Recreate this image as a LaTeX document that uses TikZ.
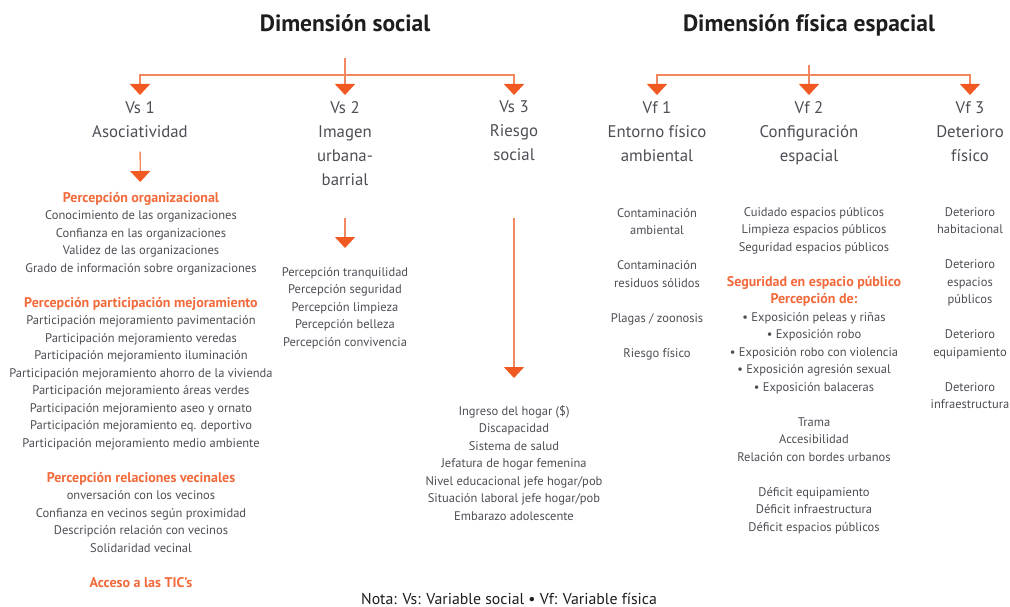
\documentclass[tikz,border=0pt]{standalone}
\usepackage{fontspec}
\setmainfont{PT Sans}
\usepackage{tikz}
\usetikzlibrary{arrows.meta, positioning}
\definecolor{naranja}{HTML}{F05A22}
\definecolor{linea}{HTML}{F3875E}
\definecolor{rotulo}{HTML}{F26A3B}
\definecolor{texto}{HTML}{4F4D55}
\definecolor{titulo}{HTML}{1E1E1E}
\tikzstyle{dim} = [inner sep = 0, text = titulo, anchor = base,
  font = \fontsize{23.5}{28}\selectfont\bfseries]
\tikzstyle{var} = [inner sep = 0, text = texto, align = center, anchor = north,
  font = \fontsize{16.8}{24}\selectfont]
\tikzstyle{lista} = [
  inner sep = 0, text = texto, align = center, anchor = north,
  font = \fontsize{12.5}{17.5}\selectfont
]
\tikzstyle{tree} = [draw = linea, line width = 1.3pt,
  -{Triangle[width = 20pt, length = 11pt, color = naranja]}]
\newcommand{\rot}[1]{\textcolor{rotulo}{\fontsize{14}{17.5}\selectfont\bfseries #1}}

\begin{document}
\begin{tikzpicture}[x = 1pt, y = -1pt]
      \useasboundingbox [fill = white] (0, 0) rectangle (1010, 607);
      % dimensiones
      \node [dim] (dim-s) at (345, 32) {Dimensión social};
      \node [dim] (dim-f) at (809, 32) {Dimensión física espacial};
      % variables sociales
      \node [var] (vs-1) at (140, 101) {Vs 1\\Asociatividad};
      \node [var] (vs-2) at (345, 101) {Vs 2\\Imagen\\urbana-\\barrial};
      \node [var] (vs-3) at (514, 101) {Vs 3\\Riesgo\\social};
      % variables fisicas
      \node [var] (vf-1) at (657, 101) {Vf 1\\Entorno físico\\ambiental};
      \node [var] (vf-2) at (809, 101) {Vf 2\\Configuración\\espacial};
      \node [var] (vf-3) at (970, 101) {Vf 3\\Deterioro\\físico};

      \coordinate (j-s) at (345, 75);
      \coordinate (j-f) at (809, 75);
      \draw [tree, shorten < = 25pt, shorten > = 6pt] (dim-s) -- (vs-2);
      \draw [tree, shorten > = 6pt] (j-s) -| (vs-1);
      \draw [tree, shorten > = 6pt] (j-s) -| (vs-3);
      \draw [tree, shorten < = 28pt, shorten > = 6pt] (dim-f) -- (vf-2);
      \draw [tree, shorten > = 6pt] (j-f) -| (vf-1);
      \draw [tree, shorten > = 6pt] (j-f) -| (vf-3);

      % listas sociales
      \node [lista] (ls-1) at (141, 192) {
        \rot{Percepción organizacional}\\
        Conocimiento de las organizaciones\\
        Confianza en las organizaciones\\
        Validez de las organizaciones\\
        Grado de información sobre organizaciones\\[17.5pt]
        \rot{Percepción participación mejoramiento}\\
        Participación mejoramiento pavimentación\\
        Participación mejoramiento veredas\\
        Participación mejoramiento iluminación\\
        Participación mejoramiento ahorro de la vivienda\\
        Participación mejoramiento áreas verdes\\
        Participación mejoramiento aseo y ornato\\
        Participación mejoramiento eq. deportivo\\
        Participación mejoramiento medio ambiente\\[17.5pt]
        \rot{Percepción relaciones vecinales}\\
        onversación con los vecinos\\
        Confianza en vecinos según proximidad\\
        Descripción relación con vecinos\\
        Solidaridad vecinal\\[17.5pt]
        \rot{Acceso a las TIC’s}};
      \node [lista] (ls-2) at (345, 267) {
        Percepción tranquilidad\\
        Percepción seguridad\\
        Percepción limpieza\\
        Percepción belleza\\
        Percepción convivencia};
      \node [lista] (ls-3) at (514, 405) {
        Ingreso del hogar (\$)\\
        Discapacidad\\
        Sistema de salud\\
        Jefatura de hogar femenina\\
        Nivel educacional jefe hogar/pob\\
        Situación laboral jefe hogar/pob\\
        Embarazo adolescente};
      \draw [tree, shorten < = 14pt, shorten > = 10pt] (vs-1) -- (ls-1);
      \draw [tree, shorten < = 32pt, shorten > = 19pt] (vs-2) -- (ls-2);
      \draw [tree, shorten < = 57pt, shorten > = 27pt] (vs-3) -- (ls-3);

      % listas fisicas
      \node [lista] (lf-1) at (657, 208) {
        Contaminación\\
        ambiental\\[17.5pt]
        Contaminación\\
        residuos sólidos\\[17.5pt]
        Plagas / zoonosis\\[17.5pt]
        Riesgo físico};
      \node [lista] (lf-2) at (814, 207) {
        Cuidado espacios públicos\\
        Limpieza espacios públicos\\
        Seguridad espacios públicos\\[17.5pt]
        \rot{Seguridad en espacio público}\\
        \rot{Percepción de:}\\
        • Exposición peleas y riñas\\
        • Exposición robo\\
        • Exposición robo con violencia\\
        • Exposición agresión sexual\\
        • Exposición balaceras\\[17.5pt]
        Trama\\
        Accesibilidad\\
        Relación con bordes urbanos\\[17.5pt]
        Déficit equipamiento\\
        Déficit infraestructura\\
        Déficit espacios públicos};
      \node [lista] (lf-3) at (970, 207) {
        Deterioro\\
        habitacional\\[17.5pt]
        Deterioro\\
        espacios\\
        públicos\\[17.5pt]
        Deterioro\\
        equipamiento\\[17.5pt]
        Deterioro\\
        infraestructura};

      \node [text = titulo, font = \fontsize{15.8}{18}\selectfont, anchor = base]
        (nota) at (509, 604) {Nota: Vs: Variable social • Vf: Variable física};
    \end{tikzpicture}
\end{document}
